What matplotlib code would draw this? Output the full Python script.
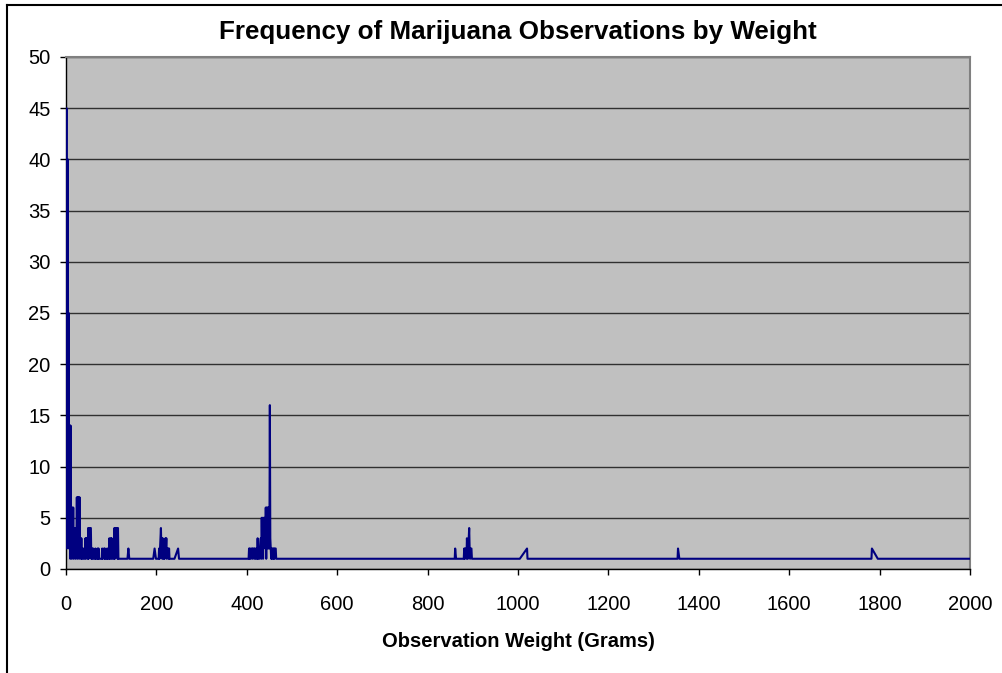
import matplotlib.pyplot as plt
from matplotlib.lines import Line2D

plt.rcParams["font.family"] = ["Liberation Sans", "DejaVu Sans"]

# observation weight (grams) and how often it was seen
weights = [0.3, 1, 1.5, 2, 3, 4, 5, 6, 7, 7.5, 8, 9, 9.5, 10, 11, 12, 13, 14, 15,
           16, 17, 18, 19, 20, 21, 22, 23, 24, 25, 26, 27, 28, 29, 30, 31, 32, 33,
           34, 35, 36, 38, 39, 41, 43, 44, 45, 46, 47, 48, 49, 50, 51, 52, 53, 55,
           56, 57, 58, 59, 60, 61, 64, 65, 66, 69, 70, 71, 72, 73, 79, 80, 81, 84,
           85, 86, 87, 90, 91, 92, 94, 95, 96, 97, 98, 99, 100, 101, 102, 103, 106,
           107, 108, 109, 110, 112, 113, 114, 115, 116, 136, 138, 140,
           193, 196, 199, 205, 206, 207, 208, 210, 211, 212, 213, 214, 215, 216,
           217, 218, 220, 221, 222, 223, 224, 226, 227, 228, 229, 240, 248, 250,
           330, 404, 405, 406, 407, 409, 410, 412, 413, 414, 416, 417, 418, 420,
           421, 423, 424, 425, 426, 428, 429, 431, 432, 433, 434, 435, 436, 437,
           438, 439, 440, 441, 442, 443, 444, 445, 446, 447, 448, 449, 450, 451,
           452, 453, 454, 455, 456, 457, 458, 459, 460, 461, 462, 464, 465,
           700, 860, 861, 863, 880, 881, 882, 883, 885, 886, 887, 888, 889, 890,
           892, 893, 894, 895, 897, 898, 1004, 1020, 1021, 1353, 1354, 1357,
           1782, 1783, 1796, 2000]
freqs = [31, 45, 2, 30, 18, 40, 3, 25, 2, 14, 3, 14, 1, 14, 2, 6, 1, 6, 2,
         6, 1, 4, 2, 4, 1, 4, 2, 7, 1, 7, 2, 7, 1, 7, 2, 3, 1,
         3, 1, 1, 2, 1, 1, 3, 1, 3, 2, 3, 1, 4, 1, 4, 2, 4, 4,
         1, 2, 1, 2, 2, 1, 1, 2, 1, 1, 2, 1, 2, 1, 1, 2, 1, 2,
         1, 2, 1, 1, 2, 1, 2, 1, 3, 1, 2, 3, 1, 3, 2, 1, 1,
         4, 1, 3, 4, 2, 4, 1, 4, 1, 1, 2, 1,
         1, 2, 1, 1, 2, 1, 2, 4, 2, 3, 1, 3, 2, 1,
         2, 1, 3, 2, 3, 1, 2, 2, 1, 2, 1, 1, 2, 1,
         1, 1, 2, 1, 2, 1, 2, 2, 1, 2, 2, 1, 2, 1,
         2, 1, 3, 1, 2, 1, 2, 3, 1, 5, 2, 5, 1, 5,
         3, 5, 5, 2, 6, 1, 6, 3, 6, 2, 6, 6, 2, 16,
         3, 2, 1, 2, 1, 2, 2, 1, 2, 1, 2, 2, 1,
         1, 1, 2, 1, 1, 2, 1, 2, 2, 1, 3, 2, 1, 2,
         4, 2, 1, 2, 2, 1, 1, 2, 1, 1, 2, 1,
         1, 2, 1, 1]

x_ticks = list(range(0, 2001, 200))
y_ticks = list(range(0, 51, 5))

fig = plt.figure(figsize=(10.02, 6.73), dpi=100)
ax = fig.add_axes([66 / 1002, 104 / 673, 904 / 1002, 512 / 673])

ax.set_facecolor("#c0c0c0")
ax.plot(weights, freqs, color="#000080", linewidth=1.5, zorder=3)

ax.set_xlim(0, 2000)
ax.set_ylim(0, 50)
ax.set_xticks(x_ticks)
ax.set_yticks(y_ticks)
ax.grid(axis="y", color="#303030", linewidth=1)
ax.set_axisbelow(True)

for side in ["top", "right"]:
    ax.spines[side].set_color("#808080")
    ax.spines[side].set_linewidth(1.5)
for side in ["left", "bottom"]:
    ax.spines[side].set_color("black")
    ax.spines[side].set_linewidth(1)

ax.tick_params(direction="out", length=4.5, width=1, color="black",
               labelsize=14.5, pad=6.5)
ax.tick_params(axis="x", pad=14)

ax.set_xlabel("Observation Weight (Grams)", fontsize=14.5, fontweight="bold",
              labelpad=13)
ax.set_title("Frequency of Marijuana Observations by Weight", fontsize=18.7,
             fontweight="bold", pad=13)

# chart area border (runs off the right and bottom edges)
fig.add_artist(Line2D([7 / 1002, 1.01], [1 - 5 / 673, 1 - 5 / 673],
                      transform=fig.transFigure, color="black", linewidth=1.5))
fig.add_artist(Line2D([7 / 1002, 7 / 1002], [1 - 5 / 673, -0.01],
                      transform=fig.transFigure, color="black", linewidth=1.5))

fig.savefig("out.png", dpi=100, facecolor="white")
